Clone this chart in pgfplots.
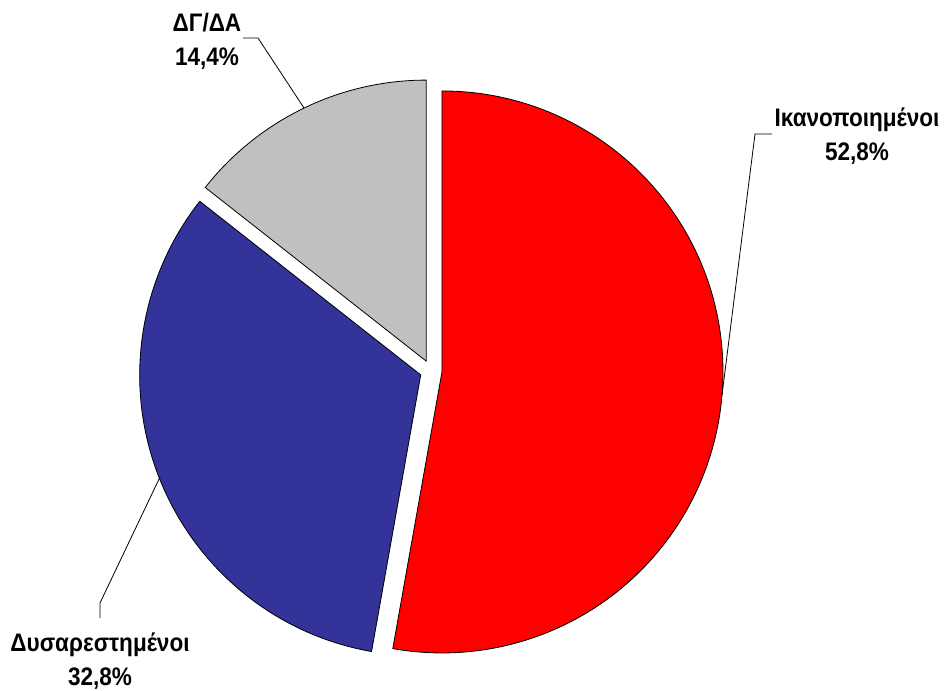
\documentclass[border=0pt]{standalone}
\usepackage{pgfplots}
\pgfplotsset{compat=1.18}
\usepackage{fontspec}
\setmainfont{Liberation Sans}[FakeStretch=0.89]
\definecolor{pieRed}{RGB}{255,0,0}
\definecolor{pieBlue}{RGB}{51,51,153}
\definecolor{pieGray}{RGB}{192,192,192}
% slice: start angle, percent, colour (clockwise from start, exploded 11 units)
\newcommand\slice[3]{%
  \filldraw[fill=#3, draw=black, line width=0.6pt]
    (axis cs:431,320) ++({#1-#2*1.8}:8.25pt) -- ++(#1:210.75pt)
    arc[start angle=#1, end angle={#1-#2*3.6}, radius=210.75pt] -- cycle;}
\begin{document}
\begin{tikzpicture}
\useasboundingbox (0,0) rectangle (708pt,518.25pt);
\begin{axis}[
    at={(0,0)}, anchor=south west,
    scale only axis, width=708pt, height=518.25pt,
    xmin=0, xmax=944, ymin=0, ymax=691,
    hide axis, clip=false,
  ]
  \slice{90}{52.8}{pieRed}
  \slice{-100.08}{32.8}{pieBlue}
  \slice{-218.16}{14.4}{pieGray}
  % leader lines
  \draw[line width=0.6pt] (axis cs:243,653) -- (axis cs:258,653) -- (axis cs:304,583);
  \draw[line width=0.6pt] (axis cs:772,557) -- (axis cs:755,557) -- (axis cs:722,296);
  \draw[line width=0.6pt] (axis cs:100,73) -- (axis cs:100,88) -- (axis cs:160,214);
  % labels
  \begin{scope}[every node/.style={align=center, inner sep=0pt, font=\fontsize{19}{25.5}\selectfont\bfseries}]
  \node at (axis cs:207,650) {ΔΓ/ΔΑ\\14,4\%};
  \node at (axis cs:857,555) {Ικανοποιημένοι\\52,8\%};
  \node at (axis cs:100,30) {Δυσαρεστημένοι\\32,8\%};
  \end{scope}
\end{axis}
\end{tikzpicture}
\end{document}
